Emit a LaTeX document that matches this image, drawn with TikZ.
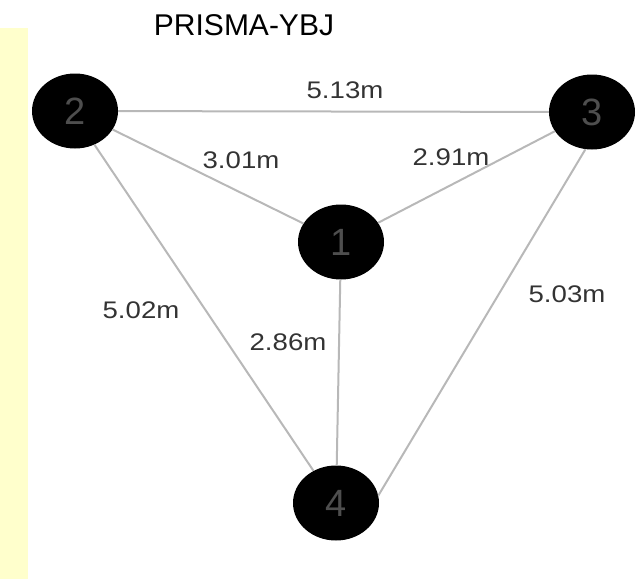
\documentclass[tikz,border=0pt]{standalone}
\usepackage{fontspec}
\setmainfont{Liberation Sans}
\usetikzlibrary{shapes.geometric}
\definecolor{stripyellow}{HTML}{FFFFCC}
\definecolor{edgegray}{HTML}{B8B8B8}
\definecolor{labelgray}{HTML}{333333}
\definecolor{digitgray}{HTML}{4E4E4E}
\tikzset{
  station/.style={ellipse, fill=black, draw=none, minimum width=86pt, minimum height=75pt, inner sep=0pt,
    text=digitgray, font=\fontsize{38}{38}\selectfont},
  dist/.style={text=labelgray, inner sep=0pt, font=\fontsize{24}{24}\selectfont},
  link/.style={draw=edgegray, line width=2pt},
  ttl/.style={inner sep=0pt, font=\fontsize{30}{30}\selectfont, anchor=base}
}
\newcommand{\dlab}[1]{\scalebox{1.15}[1]{#1}}
\begin{document}
\begin{tikzpicture}[x=1pt,y=-1pt]
\useasboundingbox (0,0) rectangle (637,579);
\fill[stripyellow] (0,28) rectangle (27.5,579);
\node[ttl] (title) at (244,35) {PRISMA-YBJ};
\node[station] (n2) at (75,111) {2};
\node[station] (n3) at (592,112) {3};
\node[station] (n1) at (341,242) {1};
\node[station] (n4) at (336,503) {4};
\draw[link] (n2) -- (n3);
\draw[link] (n2) -- (n1);
\draw[link] (n2.-60) -- (n4.125);
\draw[link] (n3) -- (n1);
\draw[link] (n3.-100) -- (n4.10);
\draw[link] (n1) -- (n4);
\node[dist] (l23) at (345,90) {\dlab{5.13m}};
\node[dist] (l21) at (241,160) {\dlab{3.01m}};
\node[dist] (l31) at (451,157) {\dlab{2.91m}};
\node[dist] (l34) at (567,294) {\dlab{5.03m}};
\node[dist] (l24) at (141,310) {\dlab{5.02m}};
\node[dist] (l14) at (288,342) {\dlab{2.86m}};
\end{tikzpicture}
\end{document}
